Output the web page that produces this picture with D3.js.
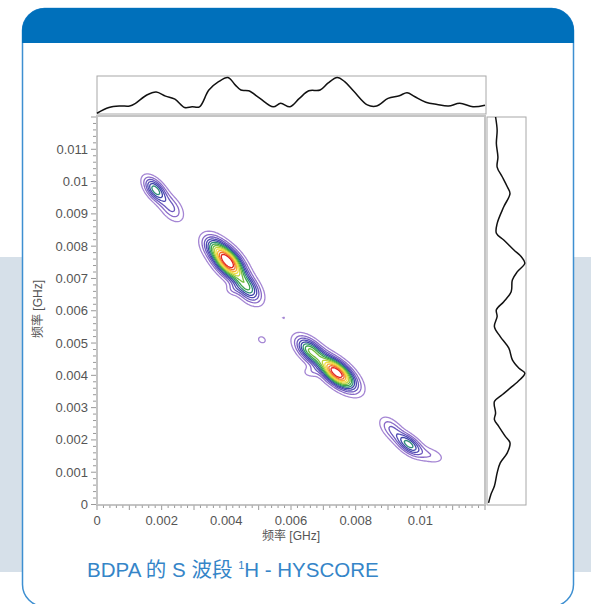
<!DOCTYPE html>
<html>
<head>
<meta charset="utf-8">
<script src="https://cdn.jsdelivr.net/npm/d3@7"></script>
<style>
html, body { margin: 0; padding: 0; background: #fff; overflow: hidden; }
svg { display: block; font-family: "Liberation Sans", "Noto Sans CJK SC", sans-serif; }
</style>
</head>
<body>
<svg id="chart" width="591" height="604"></svg>
<script>
// projections (frequency in GHz, relative intensity)
const topFreq = [0, 0.00037, 0.00072, 0.00101, 0.00119, 0.00154, 0.00183, 0.00212, 0.00241, 0.00271,
    0.00294, 0.00317, 0.00346, 0.00376, 0.00405, 0.00428, 0.00445, 0.00469, 0.00504, 0.00545,
    0.00568, 0.00597, 0.00626, 0.00655, 0.0069, 0.00714, 0.00743, 0.00766, 0.00795, 0.00836,
    0.00865, 0.009, 0.00935, 0.00959, 0.00982, 0.01017, 0.01052, 0.01087, 0.01122, 0.01163, 0.012]
const topInt = [0.02, 0.17, 0.21, 0.21, 0.28, 0.5, 0.58, 0.47, 0.39, 0.17,
    0.19, 0.19, 0.63, 0.85, 0.96, 0.76, 0.63, 0.61, 0.41, 0.19,
    0.28, 0.19, 0.41, 0.61, 0.63, 0.81, 0.96, 0.85, 0.59, 0.24,
    0.21, 0.41, 0.48, 0.56, 0.46, 0.31, 0.25, 0.21, 0.28, 0.19, 0.23]

const sideFreq = [0.012, 0.01159, 0.01118, 0.01076, 0.01045, 0.01015, 0.00984, 0.00963, 0.00922, 0.0087,
    0.0084, 0.00819, 0.00788, 0.00767, 0.00747, 0.00721, 0.00695, 0.00659, 0.00628, 0.00603,
    0.00582, 0.00551, 0.0052, 0.00484, 0.00448, 0.00422, 0.00407, 0.00386, 0.00361, 0.0034,
    0.00319, 0.00283, 0.00263, 0.00242, 0.00211, 0.00191, 0.0016, 0.00129, 0.00098, 0.00057,
    0.00031, 0.00005]
const sideInt = [0.22, 0.26, 0.24, 0.28, 0.26, 0.39, 0.52, 0.59, 0.43, 0.26,
    0.24, 0.43, 0.69, 0.88, 0.97, 0.78, 0.65, 0.62, 0.43, 0.24,
    0.26, 0.19, 0.34, 0.56, 0.65, 0.82, 0.97, 0.84, 0.6, 0.39,
    0.19, 0.22, 0.19, 0.3, 0.47, 0.59, 0.52, 0.34, 0.26, 0.19,
    0.1, 0.04]

// cross peaks: centre (GHz), height, width along / across the ridge (GHz), ridge angle (deg)
const peakX     = [0.00405, 0.00465, 0.0036, 0.0042, 0.00742, 0.00658, 0.0066, 0.0018, 0.0023, 0.00965, 0.0091, 0.01035, 0.0051, 0.00577]
const peakY     = [0.00752, 0.00672, 0.008, 0.00665, 0.00408, 0.00478, 0.0041, 0.00975, 0.00918, 0.00186, 0.00235, 0.00152, 0.0051, 0.00578]
const peakAmp   = [1.0, 0.47, 0.25, 0.1, 1.0, 0.52, 0.1, 0.46, 0.22, 0.45, 0.2, 0.12, 0.1, 0.08]
const peakAlong = [0.00042, 0.00036, 0.0003, 0.00016, 0.00046, 0.00035, 0.00018, 0.0003, 0.00032, 0.00032, 0.0003, 0.0003, 0.00013, 0.00005]
const peakAcross = [0.00022, 0.0002, 0.0002, 0.00012, 0.00021, 0.00019, 0.00012, 0.00016, 0.00019, 0.00016, 0.00017, 0.00016, 0.0001, 0.00005]
const peakAngle = [-48, -50, -45, 0, -40, -42, 0, -50, -52, -38, -45, -20, -30, 0]

const levels = [0.07, 0.14, 0.21, 0.28, 0.35, 0.42, 0.49, 0.56, 0.63, 0.7, 0.77, 0.84, 0.91]
const levelColors = ['#a586d4', '#8a6bc8', '#6b58be', '#4f4ab4', '#3d46a8', '#2f8c78', '#3aa34c',
    '#74bc3e', '#c0d43c', '#f2dc44', '#f6b034', '#f0702c', '#e2231f']

const xTicks = [0, 0.002, 0.004, 0.006, 0.008, 0.01]
const yTicks = [0, 0.001, 0.002, 0.003, 0.004, 0.005, 0.006, 0.007, 0.008, 0.009, 0.01, 0.011]

const svg = d3.select('#chart')

// page frame
svg.append('rect').attr('x', 0).attr('y', 257).attr('width', 30).attr('height', 315).attr('fill', '#d6e0e9')
svg.append('rect').attr('x', 565).attr('y', 257).attr('width', 26).attr('height', 315).attr('fill', '#d6e0e9')
svg.append('rect')
    .attr('x', 22.5).attr('y', 8.5).attr('width', 551).attr('height', 598).attr('rx', 22)
    .attr('fill', '#fff').attr('stroke', '#3d8fd1').attr('stroke-width', 1.5)
svg.append('path')
    .attr('d', 'M22,43 L22,31 A23,23 0 0 1 45,8 L551,8 A23,23 0 0 1 574,31 L574,43 Z')
    .attr('fill', '#0070bb')

const x = d3.scaleLinear().domain([0, 0.012]).range([97, 485])
const y = d3.scaleLinear().domain([0, 0.012]).range([504.5, 117])

// 2D spectrum
const n = 300, step = 0.012 / n
const values = new Float64Array(n * n)
for (let j = 0; j < n; j++) {
    const gy = (j + 0.5) * step
    for (let i = 0; i < n; i++) {
        const gx = (i + 0.5) * step
        let v = 0
        for (let k = 0; k < peakX.length; k++) {
            const t = peakAngle[k] * Math.PI / 180
            const dx = gx - peakX[k], dy = gy - peakY[k]
            const a = dx * Math.cos(t) + dy * Math.sin(t)
            const b = -dx * Math.sin(t) + dy * Math.cos(t)
            v += peakAmp[k] * Math.exp(-0.5 * (a * a / (peakAlong[k] * peakAlong[k]) + b * b / (peakAcross[k] * peakAcross[k])))
        }
        values[j * n + i] = v
    }
}

const contours = d3.contours().size([n, n]).thresholds(levels)(values)
const toScreen = d3.geoTransform({
    point: function(px, py) { this.stream.point(x(px * step), y(py * step)) }
})
const path = d3.geoPath(toScreen)

svg.append('clipPath').attr('id', 'plot-clip')
    .append('rect').attr('x', 97).attr('y', 117).attr('width', 388).attr('height', 387.5)

svg.append('g')
    .attr('clip-path', 'url(#plot-clip)')
    .selectAll('path')
    .data(contours)
    .enter().append('path')
        .attr('d', path)
        .attr('fill', 'none')
        .attr('stroke', (d, i) => levelColors[i])
        .attr('stroke-width', 1.3)

// main frame
svg.append('rect')
    .attr('x', 97).attr('y', 116).attr('width', 388).attr('height', 389)
    .attr('fill', 'none').attr('stroke', '#c4c4c4').attr('stroke-width', 2)

// axes
const minor = d3.range(0, 0.01201, 0.0002)
const xAxis = svg.append('g')
xAxis.selectAll('line.minor').data(minor).enter().append('line')
    .attr('x1', d => x(d)).attr('x2', d => x(d))
    .attr('y1', 505.5).attr('y2', d => (Math.round(d / 0.0002) % 5 === 0 ? 510 : 508))
    .attr('stroke', '#999').attr('stroke-width', 1)
xAxis.selectAll('text').data(xTicks).enter().append('text')
    .attr('x', d => x(d)).attr('y', 525)
    .attr('text-anchor', 'middle').attr('font-size', 13).attr('fill', '#555')
    .text(d => d3.format('~g')(d))

const yAxis = svg.append('g')
yAxis.selectAll('line.minor').data(minor).enter().append('line')
    .attr('y1', d => y(d)).attr('y2', d => y(d))
    .attr('x1', 96).attr('x2', d => (Math.round(d / 0.0002) % 5 === 0 ? 91 : 93))
    .attr('stroke', '#999').attr('stroke-width', 1)
yAxis.selectAll('text').data(yTicks).enter().append('text')
    .attr('x', 88).attr('y', d => y(d) + 4.5)
    .attr('text-anchor', 'end').attr('font-size', 13).attr('fill', '#555')
    .text(d => d3.format('~g')(d))

svg.append('text')
    .attr('x', 291).attr('y', 540)
    .attr('text-anchor', 'middle').attr('font-size', 12).attr('fill', '#555')
    .text('频率 [GHz]')
svg.append('text')
    .attr('transform', 'translate(42,' + 309 + ') rotate(-90)')
    .attr('text-anchor', 'middle').attr('font-size', 12).attr('fill', '#555')
    .text('频率 [GHz]')

// top projection
const topY = d3.scaleLinear().domain([0, 1]).range([114, 76])
svg.append('rect')
    .attr('x', 97).attr('y', 76).attr('width', 389).attr('height', 38)
    .attr('fill', 'none').attr('stroke', '#a8a8a8').attr('stroke-width', 1)
svg.append('path')
    .datum(d3.zip(topFreq, topInt))
    .attr('d', d3.line().x(d => x(d[0])).y(d => topY(d[1])).curve(d3.curveCatmullRom))
    .attr('fill', 'none').attr('stroke', '#111').attr('stroke-width', 1.5)

// side projection
const sideX = d3.scaleLinear().domain([0, 1]).range([487, 526])
svg.append('rect')
    .attr('x', 487).attr('y', 117).attr('width', 39).attr('height', 388)
    .attr('fill', 'none').attr('stroke', '#a8a8a8').attr('stroke-width', 1)
svg.append('path')
    .datum(d3.zip(sideFreq, sideInt))
    .attr('d', d3.line().x(d => sideX(d[1])).y(d => y(d[0])).curve(d3.curveCatmullRom))
    .attr('fill', 'none').attr('stroke', '#111').attr('stroke-width', 1.5)

// caption
const caption = svg.append('text')
    .attr('x', 87).attr('y', 577)
    .attr('font-size', 20.5).attr('fill', '#3585c8')
caption.append('tspan').text('BDPA 的 S 波段 ')
caption.append('tspan').attr('font-size', 11).attr('dy', -8).text('1')
caption.append('tspan').attr('dy', 8).text('H - HYSCORE')
</script>
</body>
</html>
